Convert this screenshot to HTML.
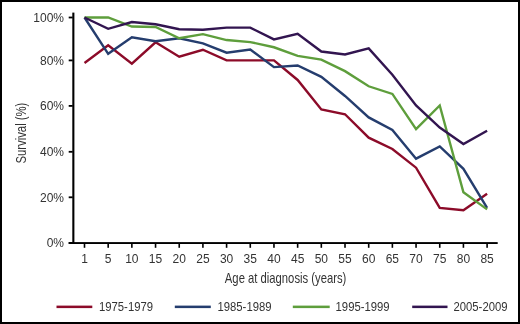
<!DOCTYPE html>
<html><head><meta charset="utf-8"><style>
html,body{margin:0;padding:0;background:#fff;width:520px;height:324px;overflow:hidden;font-family:"Liberation Sans",sans-serif;}
svg{display:block}
</style></head><body>
<svg width="520" height="324" viewBox="0 0 520 324"><rect x="0" y="0" width="520" height="324" fill="#000"/>
<rect x="2" y="2" width="516" height="320" fill="#fff"/>
<rect x="72.3" y="12.6" width="2.1" height="231.4" fill="#000"/>
<rect x="68.7" y="242.1" width="429" height="1.9" fill="#000"/>
<rect x="68.7" y="242.10" width="4" height="1.8" fill="#000"/>
<rect x="68.7" y="196.40" width="4" height="1.8" fill="#000"/>
<rect x="68.7" y="150.90" width="4" height="1.8" fill="#000"/>
<rect x="68.7" y="105.00" width="4" height="1.8" fill="#000"/>
<rect x="68.7" y="59.50" width="4" height="1.8" fill="#000"/>
<rect x="68.7" y="16.60" width="4" height="1.8" fill="#000"/>
<rect x="83.70" y="243" width="1.6" height="4.8" fill="#000"/>
<rect x="107.38" y="243" width="1.6" height="4.8" fill="#000"/>
<rect x="131.06" y="243" width="1.6" height="4.8" fill="#000"/>
<rect x="154.75" y="243" width="1.6" height="4.8" fill="#000"/>
<rect x="178.43" y="243" width="1.6" height="4.8" fill="#000"/>
<rect x="202.11" y="243" width="1.6" height="4.8" fill="#000"/>
<rect x="225.79" y="243" width="1.6" height="4.8" fill="#000"/>
<rect x="249.48" y="243" width="1.6" height="4.8" fill="#000"/>
<rect x="273.16" y="243" width="1.6" height="4.8" fill="#000"/>
<rect x="296.84" y="243" width="1.6" height="4.8" fill="#000"/>
<rect x="320.52" y="243" width="1.6" height="4.8" fill="#000"/>
<rect x="344.21" y="243" width="1.6" height="4.8" fill="#000"/>
<rect x="367.89" y="243" width="1.6" height="4.8" fill="#000"/>
<rect x="391.57" y="243" width="1.6" height="4.8" fill="#000"/>
<rect x="415.25" y="243" width="1.6" height="4.8" fill="#000"/>
<rect x="438.94" y="243" width="1.6" height="4.8" fill="#000"/>
<rect x="462.62" y="243" width="1.6" height="4.8" fill="#000"/>
<rect x="486.30" y="243" width="1.6" height="4.8" fill="#000"/>
<g style="filter:grayscale(1)">
<text x="64" y="247.20" text-anchor="end" font-size="12" fill="#333333" font-family="Liberation Sans, sans-serif">0%</text>
<text x="64" y="201.50" text-anchor="end" font-size="12" fill="#333333" font-family="Liberation Sans, sans-serif">20%</text>
<text x="64" y="156.00" text-anchor="end" font-size="12" fill="#333333" font-family="Liberation Sans, sans-serif">40%</text>
<text x="64" y="110.10" text-anchor="end" font-size="12" fill="#333333" font-family="Liberation Sans, sans-serif">60%</text>
<text x="64" y="64.60" text-anchor="end" font-size="12" fill="#333333" font-family="Liberation Sans, sans-serif">80%</text>
<text x="64" y="21.70" text-anchor="end" font-size="12" fill="#333333" font-family="Liberation Sans, sans-serif">100%</text>
<text x="84.50" y="262.5" text-anchor="middle" font-size="12" fill="#333333" font-family="Liberation Sans, sans-serif">1</text>
<text x="108.18" y="262.5" text-anchor="middle" font-size="12" fill="#333333" font-family="Liberation Sans, sans-serif">5</text>
<text x="131.86" y="262.5" text-anchor="middle" font-size="12" fill="#333333" font-family="Liberation Sans, sans-serif">10</text>
<text x="155.55" y="262.5" text-anchor="middle" font-size="12" fill="#333333" font-family="Liberation Sans, sans-serif">15</text>
<text x="179.23" y="262.5" text-anchor="middle" font-size="12" fill="#333333" font-family="Liberation Sans, sans-serif">20</text>
<text x="202.91" y="262.5" text-anchor="middle" font-size="12" fill="#333333" font-family="Liberation Sans, sans-serif">25</text>
<text x="226.59" y="262.5" text-anchor="middle" font-size="12" fill="#333333" font-family="Liberation Sans, sans-serif">30</text>
<text x="250.28" y="262.5" text-anchor="middle" font-size="12" fill="#333333" font-family="Liberation Sans, sans-serif">35</text>
<text x="273.96" y="262.5" text-anchor="middle" font-size="12" fill="#333333" font-family="Liberation Sans, sans-serif">40</text>
<text x="297.64" y="262.5" text-anchor="middle" font-size="12" fill="#333333" font-family="Liberation Sans, sans-serif">45</text>
<text x="321.32" y="262.5" text-anchor="middle" font-size="12" fill="#333333" font-family="Liberation Sans, sans-serif">50</text>
<text x="345.01" y="262.5" text-anchor="middle" font-size="12" fill="#333333" font-family="Liberation Sans, sans-serif">55</text>
<text x="368.69" y="262.5" text-anchor="middle" font-size="12" fill="#333333" font-family="Liberation Sans, sans-serif">60</text>
<text x="392.37" y="262.5" text-anchor="middle" font-size="12" fill="#333333" font-family="Liberation Sans, sans-serif">65</text>
<text x="416.05" y="262.5" text-anchor="middle" font-size="12" fill="#333333" font-family="Liberation Sans, sans-serif">70</text>
<text x="439.74" y="262.5" text-anchor="middle" font-size="12" fill="#333333" font-family="Liberation Sans, sans-serif">75</text>
<text x="463.42" y="262.5" text-anchor="middle" font-size="12" fill="#333333" font-family="Liberation Sans, sans-serif">80</text>
<text x="487.10" y="262.5" text-anchor="middle" font-size="12" fill="#333333" font-family="Liberation Sans, sans-serif">85</text>
<text x="285.6" y="282.8" text-anchor="middle" font-size="14.5" fill="#333333" font-family="Liberation Sans, sans-serif" textLength="121.5" lengthAdjust="spacingAndGlyphs">Age at diagnosis (years)</text>
<text transform="translate(25.5,133.1) rotate(-90)" text-anchor="middle" font-size="15" fill="#333333" font-family="Liberation Sans, sans-serif" textLength="61" lengthAdjust="spacingAndGlyphs">Survival (%)</text>
</g>
<polyline points="84.50,63.05 108.18,45.24 131.86,63.73 155.55,42.31 179.23,56.74 202.91,49.75 226.59,60.34 250.28,60.34 273.96,60.34 297.64,79.96 321.32,109.50 345.01,114.24 368.69,137.69 392.37,148.97 416.05,167.68 439.74,207.82 463.42,210.30 487.10,193.84" fill="none" stroke="#8c0b29" stroke-width="2.4" stroke-linejoin="miter" stroke-miterlimit="3"/>
<polyline points="84.50,17.50 108.18,53.81 131.86,37.34 155.55,41.18 179.23,38.25 202.91,43.43 226.59,52.68 250.28,49.52 273.96,67.11 297.64,65.53 321.32,76.81 345.01,95.97 368.69,117.40 392.37,130.02 416.05,158.66 439.74,146.49 463.42,168.81 487.10,207.82" fill="none" stroke="#253d6e" stroke-width="2.4" stroke-linejoin="miter" stroke-miterlimit="3"/>
<polyline points="84.50,17.50 108.18,17.50 131.86,26.52 155.55,26.97 179.23,38.25 202.91,34.19 226.59,40.05 250.28,42.08 273.96,47.27 297.64,55.84 321.32,59.67 345.01,71.17 368.69,86.28 392.37,93.94 416.05,129.12 439.74,105.44 463.42,192.26 487.10,209.40" fill="none" stroke="#5e9e3c" stroke-width="2.4" stroke-linejoin="miter" stroke-miterlimit="3"/>
<polyline points="84.50,17.50 108.18,28.78 131.86,22.01 155.55,24.26 179.23,29.23 202.91,29.68 226.59,27.65 250.28,27.65 273.96,39.37 297.64,33.74 321.32,51.55 345.01,54.48 368.69,48.39 392.37,74.78 416.05,105.44 439.74,127.54 463.42,144.01 487.10,130.70" fill="none" stroke="#321550" stroke-width="2.4" stroke-linejoin="miter" stroke-miterlimit="3"/>
<rect x="56.50" y="305.6" width="35.80" height="2.5" fill="#8c0b29"/>
<text style="filter:grayscale(1)" x="99.00" y="311.1" font-size="12" fill="#333333" font-family="Liberation Sans, sans-serif" textLength="54" lengthAdjust="spacingAndGlyphs">1975-1979</text>
<rect x="174.80" y="305.6" width="36.00" height="2.5" fill="#253d6e"/>
<text style="filter:grayscale(1)" x="217.50" y="311.1" font-size="12" fill="#333333" font-family="Liberation Sans, sans-serif" textLength="54" lengthAdjust="spacingAndGlyphs">1985-1989</text>
<rect x="292.80" y="305.6" width="36.90" height="2.5" fill="#5e9e3c"/>
<text style="filter:grayscale(1)" x="335.60" y="311.1" font-size="12" fill="#333333" font-family="Liberation Sans, sans-serif" textLength="54" lengthAdjust="spacingAndGlyphs">1995-1999</text>
<rect x="412.20" y="305.6" width="35.30" height="2.5" fill="#321550"/>
<text style="filter:grayscale(1)" x="453.50" y="311.1" font-size="12" fill="#333333" font-family="Liberation Sans, sans-serif" textLength="54" lengthAdjust="spacingAndGlyphs">2005-2009</text></svg>
</body></html>
